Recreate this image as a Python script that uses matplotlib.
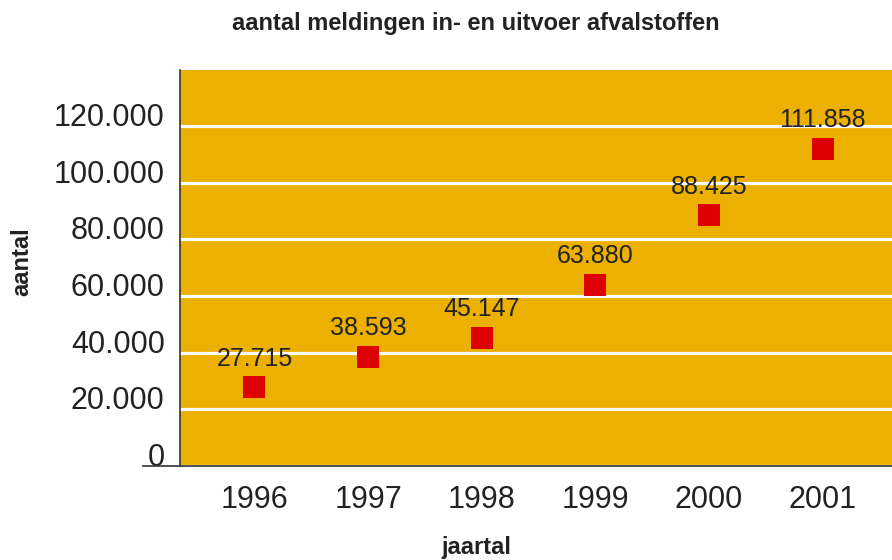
import matplotlib.pyplot as plt
import matplotlib.ticker as mticker

years = ["1996", "1997", "1998", "1999", "2000", "2001"]
meldingen = [27715, 38593, 45147, 63880, 88425, 111858]
labels = ["27.715", "38.593", "45.147", "63.880", "88.425", "111.858"]
yticks = [0, 20000, 40000, 60000, 80000, 100000, 120000]

plt.rcParams["font.family"] = ["Liberation Sans", "DejaVu Sans"]

fig = plt.figure(figsize=(8.92, 5.6), dpi=100)
ax = fig.add_axes([0.2018, 0.1679, 0.7982, 0.7071])
ax.set_facecolor("#EBB000")

x = list(range(len(years)))
ax.scatter(x, meldingen, marker="s", s=270, color="#DD0000", linewidths=0, zorder=3)
# data labels, a bit smaller to mimic the narrow font of the original
for xi, yi, lab in zip(x, meldingen, labels):
    ax.annotate(lab, (xi, yi), xytext=(0, 15.5), textcoords="offset points",
                ha="center", va="baseline", fontsize=18, color="#222222", zorder=4)

ax.set_xlim(-0.655, 5.61)
ax.set_ylim(0, 139700)
ax.set_xticks(x)
ax.set_xticklabels(years)
ax.set_yticks(yticks)
ax.yaxis.set_major_formatter(mticker.FuncFormatter(lambda v, p: f"{int(v):,}".replace(",", ".")))
ax.tick_params(axis="both", length=0, labelsize=22, labelcolor="#222222")
ax.tick_params(axis="y", pad=11)
ax.tick_params(axis="x", pad=14)
plt.setp(ax.get_yticklabels(), va="baseline")

ax.grid(axis="y", color="white", linewidth=2.3)
ax.set_axisbelow(True)
for s in ["top", "right", "bottom"]:
    ax.spines[s].set_visible(False)
ax.spines["left"].set_color("#333333")
ax.spines["left"].set_linewidth(1.2)
ax.axhline(0, xmin=-37 / 712, xmax=1, color="#333333", linewidth=1.2, clip_on=False, zorder=5)

fig.text(0.533, 0.958, "aantal meldingen in- en uitvoer afvalstoffen", ha="center", va="center",
         fontsize=17, fontweight="bold", color="#222222")
fig.text(0.024, 0.532, "aantal", rotation=90, ha="center", va="center",
         fontsize=17, fontweight="bold", color="#222222")
fig.text(0.534, 0.023, "jaartal", ha="center", va="center",
         fontsize=17, fontweight="bold", color="#222222")

fig.savefig("out.png", dpi=100)
